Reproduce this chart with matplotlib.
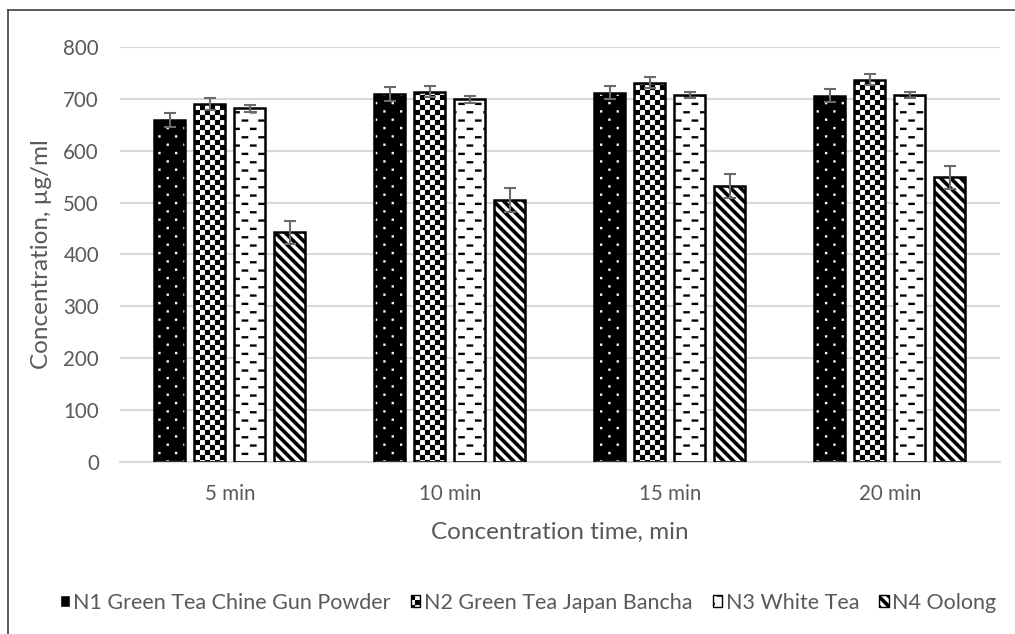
import warnings
import numpy as np
import matplotlib
matplotlib.use("Agg")
from matplotlib import pyplot as plt
import matplotlib.hatch as mhatch
from matplotlib.path import Path
from matplotlib.patches import Rectangle
from matplotlib.lines import Line2D

warnings.filterwarnings("ignore", message="hatch must consist")

times = ["5 min", "10 min", "15 min", "20 min"]
teas = ["N1 Green Tea Chine Gun Powder", "N2 Green Tea Japan Bancha",
        "N3 White Tea", "N4 Oolong"]

n1 = [659, 709, 712, 706]
n2 = [690, 714, 731, 737]
n3 = [682, 699, 708, 708]
n4 = [443, 505, 532, 549]
n1_err = [13, 13, 13, 13]
n2_err = [12, 11, 11, 11]
n3_err = [7, 7, 6, 6]
n4_err = [22, 24, 23, 22]


# Excel-like pattern fills made as custom hatch shapes (unit tile = 1 inch)
def quad(x, y, w, h):
    return [(x, y), (x + w, y), (x + w, y + h), (x, y + h)]


SHAPES = {}
SHAPES["c"] = [quad(i / 20, j / 20, 1 / 20, 1 / 20)
               for i in range(20) for j in range(20) if (i + j) % 2 == 0]
SHAPES["d"] = [quad(i / 6 + (j % 2) / 12, (j + 0.5) / 12, 0.022, 0.022)
               for i in range(6) for j in range(12)]
SHAPES["e"] = [quad(i / 6 + (j % 2) / 12, (j + 0.4) / 12, 0.065, 0.022)
               for i in range(6) for j in range(12)]
SHAPES["s"] = [[(a, 1), (a + 0.05, 1), (a + 1.05, 0), (a + 1, 0)]
               for a in np.arange(-1, 1, 0.1)]


class ShapeHatch(mhatch.HatchPatternBase):
    def __init__(self, hatch, density):
        self.polys = [p for key, polys in SHAPES.items() if key in hatch
                      for p in polys]
        self.num_vertices = 5 * len(self.polys)
        self.filled = True

    def set_vertices_and_codes(self, vertices, codes):
        for k, poly in enumerate(self.polys):
            vertices[5 * k:5 * k + 4] = poly
            vertices[5 * k + 4] = poly[0]
            codes[5 * k] = Path.MOVETO
            codes[5 * k + 1:5 * k + 4] = Path.LINETO
            codes[5 * k + 4] = Path.CLOSEPOLY


mhatch._hatch_types.append(ShapeHatch)

plt.rcParams["font.family"] = ["Lato", "DejaVu Sans"]
plt.rcParams["hatch.linewidth"] = 0.1
text_col = "#595959"

fig = plt.figure(figsize=(10.15, 6.34), dpi=100)
ax = fig.add_axes([0.118, 0.2713, 0.867, 0.6546])

x = np.arange(len(times))
width = 0.141
step = 0.182
styles = [("black", "white", "d"), ("white", "black", "c"),
          ("white", "black", "e"), ("white", "black", "s")]
series = [(n1, n1_err), (n2, n2_err), (n3, n3_err), (n4, n4_err)]

handles = []
for i, ((vals, err), (face, hcol, hatch)) in enumerate(zip(series, styles)):
    pos = x + (i - 1.5) * step
    ax.bar(pos, vals, width, color=face, edgecolor=hcol, hatch=hatch,
           linewidth=0, zorder=2)
    ax.bar(pos, vals, width, fill=False, edgecolor="black", linewidth=1.8,
           zorder=3)
    ax.errorbar(pos, vals, yerr=err, fmt="none", ecolor="#6b6b6b",
                elinewidth=1.5, capsize=4, capthick=1.5, zorder=4)
    handles.append(Rectangle((0, 0), 1, 1, facecolor=face, edgecolor=hcol,
                             hatch=hatch, linewidth=1))

ax.set_xlim(-0.5, 3.5)
ax.set_ylim(0, 800)
ax.set_yticks(np.arange(0, 801, 100))
ax.set_xticks(x)
ax.set_xticklabels(times)
ax.grid(axis="y", color="#d9d9d9", linewidth=1.5)
ax.set_axisbelow(True)
for side in ["top", "right", "left"]:
    ax.spines[side].set_visible(False)
ax.spines["bottom"].set_color("#d9d9d9")
ax.spines["bottom"].set_linewidth(1.5)
ax.tick_params(axis="both", length=0, labelsize=14.8, labelcolor=text_col)
ax.tick_params(axis="y", pad=15)
ax.tick_params(axis="x", pad=16)
ax.set_xlabel("Concentration time, min", fontsize=17.5, color=text_col,
              labelpad=13)
ax.set_ylabel("Concentration, µg/ml", fontsize=17.5, color=text_col,
              labelpad=8)

fig.legend(handles, teas, loc="center left", bbox_to_anchor=(0.059, 0.049),
           ncol=4, frameon=False, labelcolor=text_col, fontsize=15.5,
           handlelength=0.45, handleheight=0.45, handletextpad=0.15,
           columnspacing=0.95, borderaxespad=0, borderpad=0)

# chart frame (left and top edges visible in the crop)
fig.add_artist(Line2D([8 / 1015, 8 / 1015], [0, 1 - 10 / 634],
                      transform=fig.transFigure, color="#404040", lw=1.2))
fig.add_artist(Line2D([8 / 1015, 1], [1 - 10 / 634, 1 - 10 / 634],
                      transform=fig.transFigure, color="#404040", lw=1.2))

fig.savefig("out.png", dpi=100)
